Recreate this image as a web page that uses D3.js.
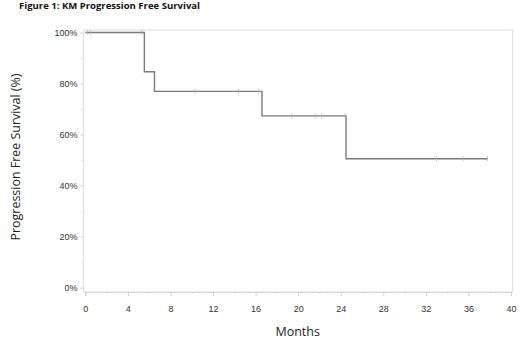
<!DOCTYPE html>
<html><head><meta charset="utf-8">
<script src="https://cdn.jsdelivr.net/npm/d3@7"></script>
<style>body{margin:0;background:#fff}svg{display:block}</style>
</head><body>
<svg id="c" width="520" height="347"></svg>
<script>
const stepTimes = [0, 5.55, 6.5, 16.6, 24.5];
const stepSurv  = [100, 84.6, 76.9, 67.3, 50.5];
const endTime = 37.8;
const censorTimes = [0.2, 0.5, 5.3, 10.3, 14.4, 16.3, 19.4, 21.6, 22.2, 24.4, 33.0, 35.5, 37.8];
const censorSurv  = [100, 100, 100, 76.9, 76.9, 76.9, 67.3, 67.3, 67.3, 67.3, 50.5, 50.5, 50.5];
const xTicks = [0, 4, 8, 12, 16, 20, 24, 28, 32, 36, 40];
const yTicks = [0, 20, 40, 60, 80, 100];
const titleText = "Figure 1: KM Progression Free Survival";
const xTitle = "Months";
const yTitle = "Progression Free Survival (%)";

const svg = d3.select("#c");
const x = d3.scaleLinear().domain([0, 40]).range([85.3, 511]);
const y = d3.scaleLinear().domain([0, 100]).range([287.5, 32.5]);

// frame
svg.append("rect").attr("x", 83.5).attr("y", 30).attr("width", 429).attr("height", 262)
  .attr("fill", "none").attr("stroke", "#e0e0e0").attr("stroke-width", 1.2);

// x axis
const xAx = svg.append("g").attr("transform", "translate(0,292)")
  .call(d3.axisBottom(x).tickValues(xTicks).tickSize(4).tickPadding(10).tickFormat(d3.format("d")));
xAx.select(".domain").attr("stroke", "#d8d8d8");
xAx.selectAll(".tick line").attr("stroke", "#d0d0d0");
xAx.selectAll("text").attr("font-family", "Liberation Sans, Arial, sans-serif").attr("font-size", 9).attr("fill", "#333");
svg.append("g").attr("transform", "translate(0,292)")
  .call(d3.axisBottom(x).tickValues(d3.range(2, 40, 4)).tickSize(2).tickFormat(""))
  .call(g => g.select(".domain").remove())
  .selectAll("line").attr("stroke", "#d8d8d8");

// y axis
const yAx = svg.append("g").attr("transform", "translate(83.5,0)")
  .call(d3.axisLeft(y).tickValues(yTicks).tickSize(3).tickPadding(3).tickFormat(d => d + "%"));
yAx.select(".domain").remove();
yAx.selectAll(".tick line").attr("stroke", "#d0d0d0");
yAx.selectAll("text").attr("font-family", "Liberation Sans, Arial, sans-serif").attr("font-size", 9).attr("fill", "#333");
svg.append("g").attr("transform", "translate(83.5,0)")
  .call(d3.axisLeft(y).tickValues(d3.range(10, 100, 20)).tickSize(2).tickFormat(""))
  .call(g => g.select(".domain").remove())
  .selectAll("line").attr("stroke", "#d8d8d8");

// KM step line
const pts = stepTimes.map((t, i) => [t, stepSurv[i]]);
pts.push([endTime, stepSurv[stepSurv.length - 1]]);
const line = d3.line().x(d => x(d[0])).y(d => y(d[1])).curve(d3.curveStepAfter);
svg.append("path").datum(pts).attr("d", line)
  .attr("fill", "none").attr("stroke", "#7a7a7a").attr("stroke-width", 1.4);

// censor marks
svg.append("g").selectAll("line").data(censorTimes).join("line")
  .attr("x1", d => x(d)).attr("x2", d => x(d))
  .attr("y1", (d, i) => y(censorSurv[i]) - 2.5).attr("y2", (d, i) => y(censorSurv[i]) + 2.5)
  .attr("stroke", "#b5b5b5").attr("stroke-width", 0.8);

// titles
svg.append("text").attr("x", 19).attr("y", 9).text(titleText)
  .attr("font-family", "Open Sans, sans-serif").attr("font-weight", "bold").attr("font-size", 9.5)
  .attr("textLength", 181).attr("lengthAdjust", "spacingAndGlyphs").attr("fill", "#111");
svg.append("text").attr("x", 297.7).attr("y", 336).attr("text-anchor", "middle").text(xTitle)
  .attr("font-family", "Open Sans, sans-serif").attr("font-size", 12.5).attr("fill", "#222");
svg.append("text").attr("transform", "translate(19.5,157) rotate(-90)").attr("text-anchor", "middle").text(yTitle)
  .attr("font-family", "Open Sans, sans-serif").attr("font-size", 12.5)
  .attr("textLength", 167).attr("lengthAdjust", "spacingAndGlyphs").attr("fill", "#222");
</script>
</body></html>
